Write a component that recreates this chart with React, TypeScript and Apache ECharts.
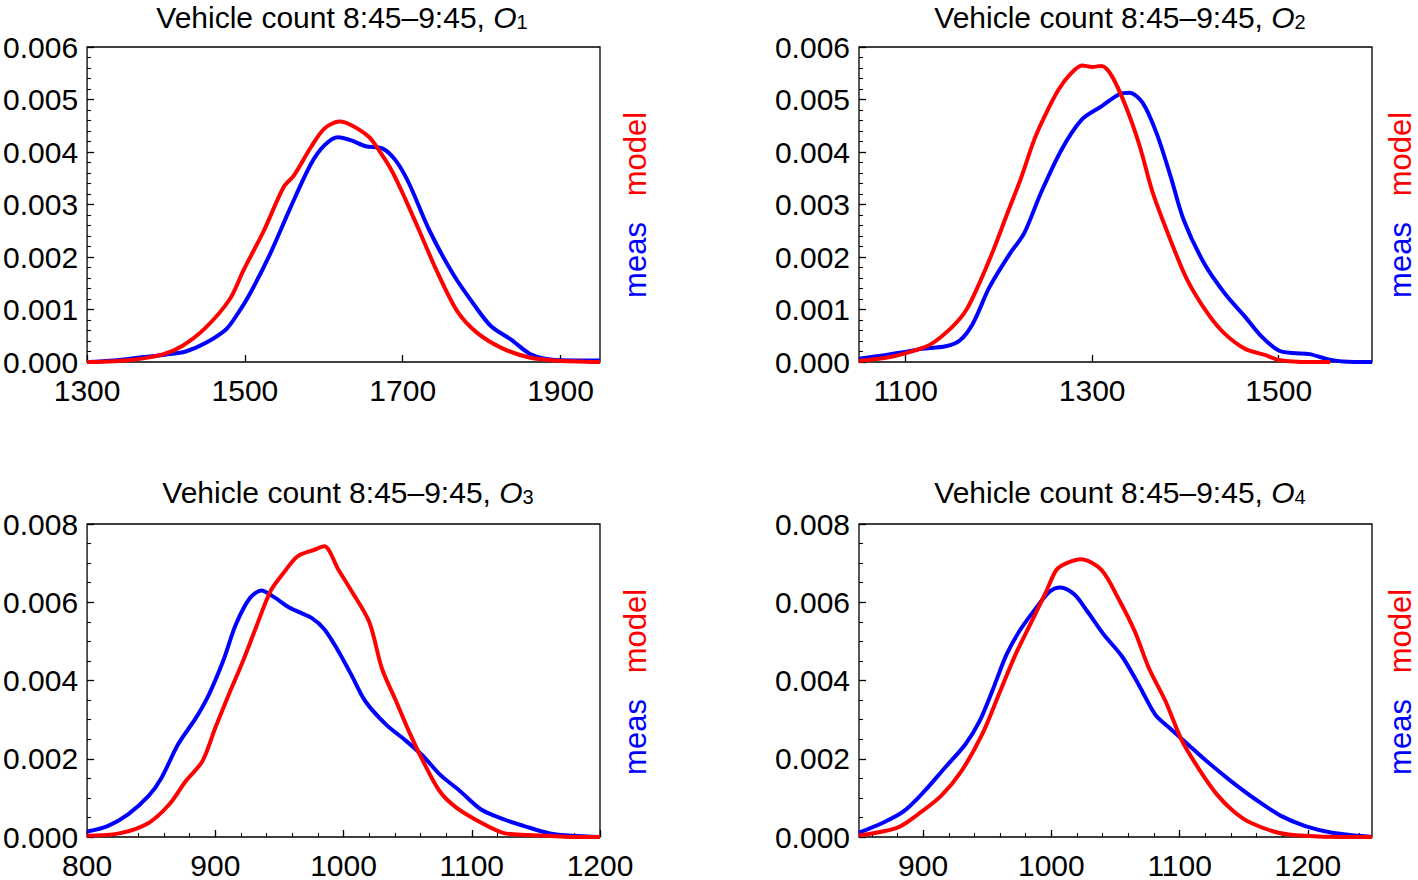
import React, { useEffect, useRef } from "react";
import * as echarts from "echarts";

// ---------- data ----------
const titleText = "Vehicle count 8:45–9:45, ";
const panelSubs = ["1", "2", "3", "4"];

const o1MeasX = [1300, 1334, 1369, 1399, 1425, 1450, 1476, 1490, 1506, 1532, 1558, 1584, 1601, 1618, 1635, 1653, 1674, 1691, 1708, 1734, 1764, 1790, 1812, 1837, 1863, 1893, 1950];
const o1MeasY = [0, 0.00003, 0.00009, 0.00014, 0.0002, 0.00036, 0.00062, 0.0009, 0.00129, 0.00206, 0.00295, 0.00378, 0.00413, 0.00428, 0.00422, 0.00411, 0.00407, 0.00384, 0.0034, 0.0025, 0.00167, 0.0011, 0.00068, 0.00043, 0.00014, 0.00004, 0.00003];
const o1ModelX = [1300, 1356, 1395, 1420, 1450, 1481, 1498, 1524, 1549, 1562, 1584, 1601, 1620, 1635, 1657, 1670, 1687, 1704, 1721, 1743, 1769, 1794, 1825, 1859, 1893, 1950];
const o1ModelY = [0, 0.00004, 0.00014, 0.0003, 0.00065, 0.0012, 0.00174, 0.0025, 0.00333, 0.00355, 0.0041, 0.00445, 0.00458, 0.00451, 0.00429, 0.00403, 0.00362, 0.00308, 0.0025, 0.00174, 0.00097, 0.00056, 0.00027, 0.00009, 0.00003, 0];

const o2MeasX = [1050, 1077, 1099, 1117, 1143, 1158, 1172, 1190, 1212, 1227, 1245, 1267, 1289, 1310, 1329, 1340, 1354, 1369, 1384, 1398, 1420, 1442, 1464, 1482, 1500, 1515, 1533, 1551, 1569, 1600];
const o2MeasY = [0.00006, 0.00013, 0.00019, 0.00025, 0.0003, 0.00041, 0.00073, 0.00143, 0.00207, 0.00245, 0.00322, 0.00404, 0.00462, 0.00487, 0.0051, 0.00513, 0.00494, 0.00436, 0.00354, 0.00271, 0.00188, 0.00131, 0.00086, 0.00048, 0.00022, 0.00017, 0.00015, 0.00006, 0.00001, 0];
const o2ModelX = [1050, 1085, 1110, 1128, 1150, 1165, 1179, 1194, 1209, 1223, 1238, 1249, 1264, 1278, 1289, 1300, 1310, 1321, 1336, 1351, 1365, 1384, 1402, 1424, 1442, 1464, 1486, 1500, 1533, 1555];
const o2ModelY = [0.00002, 0.0001, 0.00022, 0.00035, 0.00067, 0.00099, 0.0015, 0.00213, 0.00283, 0.00347, 0.00424, 0.00468, 0.00519, 0.00551, 0.00565, 0.00562, 0.00564, 0.00545, 0.00487, 0.00411, 0.00322, 0.00232, 0.00156, 0.00092, 0.00054, 0.00025, 0.00013, 0.00004, 0, 0];

const o3MeasX = [800, 816, 832, 848, 858, 871, 885, 895, 906, 916, 927, 936, 945, 958, 975, 985, 996, 1006, 1017, 1033, 1049, 1062, 1075, 1091, 1107, 1125, 1141, 1160, 1178, 1200];
const o3MeasY = [0.00014, 0.00028, 0.00058, 0.00105, 0.00151, 0.00237, 0.00305, 0.00364, 0.00449, 0.00543, 0.00611, 0.0063, 0.00615, 0.00586, 0.0056, 0.00531, 0.00475, 0.00415, 0.00347, 0.00288, 0.00245, 0.00207, 0.0016, 0.00117, 0.00071, 0.00045, 0.00028, 0.0001, 0.00003, 0];
const o3ModelX = [800, 826, 848, 864, 877, 890, 900, 911, 922, 932, 943, 953, 964, 977, 985, 996, 1006, 1020, 1030, 1041, 1051, 1062, 1075, 1088, 1107, 1125, 1144, 1165, 1178, 1200];
const o3ModelY = [0.00003, 0.0001, 0.00036, 0.00083, 0.00143, 0.00194, 0.00279, 0.00368, 0.00453, 0.00538, 0.00628, 0.00674, 0.00717, 0.00734, 0.00743, 0.00683, 0.0063, 0.0055, 0.0043, 0.00347, 0.0027, 0.00194, 0.00117, 0.00075, 0.00037, 0.0001, 0.00005, 0.00002, 0, 0];

const o4MeasX = [850, 869, 885, 901, 917, 933, 944, 954, 965, 975, 988, 999, 1007, 1018, 1028, 1041, 1055, 1068, 1081, 1092, 1105, 1121, 1140, 1161, 1179, 1198, 1219, 1240, 1250];
const o4MeasY = [0.00011, 0.00037, 0.00066, 0.00117, 0.00177, 0.00237, 0.00296, 0.00374, 0.00466, 0.00526, 0.00585, 0.00628, 0.00638, 0.0062, 0.00577, 0.00517, 0.00462, 0.0039, 0.00313, 0.00279, 0.00241, 0.00194, 0.00143, 0.00092, 0.00054, 0.00028, 0.00011, 0.00003, 0];
const o4ModelX = [850, 880, 896, 914, 930, 946, 959, 972, 986, 996, 1004, 1012, 1023, 1039, 1052, 1065, 1076, 1089, 1102, 1116, 1129, 1142, 1155, 1177, 1198, 1227, 1250];
const o4ModelY = [0.00004, 0.00024, 0.00058, 0.00105, 0.00169, 0.00262, 0.00364, 0.00466, 0.0056, 0.00628, 0.00683, 0.007, 0.0071, 0.00683, 0.00611, 0.00526, 0.00432, 0.00347, 0.00245, 0.00169, 0.00109, 0.00066, 0.00037, 0.00011, 0.00003, 0, 0];

// axis ranges and tick labels
const xRanges = [[1300, 1950], [1050, 1600], [800, 1200], [850, 1250]];
const xTickLabels = [[1300, 1500, 1700, 1900], [1100, 1300, 1500], [800, 900, 1000, 1100, 1200], [900, 1000, 1100, 1200]];
const xMinorStep = [0, 0, 20, 20];
const yMax = [0.006, 0.006, 0.008, 0.008];
const yInterval = [0.001, 0.001, 0.002, 0.002];
const yMinorSplit = [5, 5, 4, 4];

const FONT = '"Liberation Sans", Arial, Helvetica, sans-serif';
const BLUE = "#0000ff";
const RED = "#ff0000";

const zip = (xs: number[], ys: number[]) => xs.map((x, i) => [x, ys[i]]);

const measData = [zip(o1MeasX, o1MeasY), zip(o2MeasX, o2MeasY), zip(o3MeasX, o3MeasY), zip(o4MeasX, o4MeasY)];
const modelData = [zip(o1ModelX, o1ModelY), zip(o2ModelX, o2ModelY), zip(o3ModelX, o3ModelY), zip(o4ModelX, o4ModelY)];

// layout (pixels)
const grids = [
  { left: 87, top: 47, width: 513, height: 315 },
  { left: 859, top: 47, width: 513, height: 315 },
  { left: 87, top: 524, width: 513, height: 315 },
  { left: 859, top: 524, width: 513, height: 315 },
];
const titlePos = [[342, 17], [1120, 17], [348, 492], [1120, 492]];
const legendX = [635, 1400, 635, 1400];
const legendModelY = [154, 154, 631, 631];
const legendMeasY = [260, 260, 737, 737];

function buildOption() {
  const grid = grids.map((g) => ({
    ...g,
    show: true,
    borderColor: "#000",
    borderWidth: 1.3,
    backgroundColor: "transparent",
  }));

  const xAxis: any[] = grids.map((_, i) => ({
    type: "value",
    gridIndex: i,
    position: "bottom",
    min: xRanges[i][0],
    max: xRanges[i][1],
    axisLine: { show: false },
    axisTick: {
      show: true,
      inside: true,
      length: 7,
      customValues: xTickLabels[i],
      lineStyle: { color: "#000", width: 1.3 },
    },
    axisLabel: {
      show: true,
      customValues: xTickLabels[i],
      color: "#000",
      fontFamily: FONT,
      fontSize: 30,
      margin: 13,
      formatter: (v: number) => String(v),
    },
    splitLine: { show: false },
  }));

  // helper axes carrying the minor ticks on the x axis
  grids.forEach((_, i) => {
    if (!xMinorStep[i]) return;
    const vals: number[] = [];
    const step = xMinorStep[i];
    for (let v = Math.ceil(xRanges[i][0] / step) * step; v <= xRanges[i][1]; v += step) vals.push(v);
    xAxis.push({
      type: "value",
      gridIndex: i,
      position: "bottom",
      offset: 0,
      min: xRanges[i][0],
      max: xRanges[i][1],
      axisLine: { show: false },
      axisTick: {
        show: true,
        inside: true,
        length: 4,
        customValues: vals,
        lineStyle: { color: "#000", width: 1.1 },
      },
      axisLabel: { show: false },
      splitLine: { show: false },
    });
  });

  const yAxis = grids.map((_, i) => ({
    type: "value",
    gridIndex: i,
    min: 0,
    max: yMax[i],
    interval: yInterval[i],
    axisLine: { show: false },
    axisTick: { show: true, inside: true, length: 7, lineStyle: { color: "#000", width: 1.3 } },
    minorTick: { show: true, splitNumber: yMinorSplit[i], length: 4, lineStyle: { color: "#000", width: 1.1 } },
    axisLabel: {
      color: "#000",
      fontFamily: FONT,
      fontSize: 30,
      margin: 9,
      formatter: (v: number) => v.toFixed(3),
    },
    splitLine: { show: false },
    minorSplitLine: { show: false },
  }));

  const series: any[] = [];
  grids.forEach((_, i) => {
    series.push({
      type: "line",
      name: "meas",
      xAxisIndex: i,
      yAxisIndex: i,
      data: measData[i],
      showSymbol: false,
      symbol: "none",
      smooth: 0.3,
      lineStyle: { color: BLUE, width: 4 },
      z: 2,
    });
    series.push({
      type: "line",
      name: "model",
      xAxisIndex: i,
      yAxisIndex: i,
      data: modelData[i],
      showSymbol: false,
      symbol: "none",
      smooth: 0.3,
      lineStyle: { color: RED, width: 4 },
      z: 3,
    });
  });

  const graphic: any[] = [];
  grids.forEach((_, i) => {
    graphic.push({
      type: "text",
      x: titlePos[i][0],
      y: titlePos[i][1],
      style: {
        text: `{a|${titleText}}{i|O}{s|${panelSubs[i]}}`,
        align: "center",
        verticalAlign: "middle",
        rich: {
          a: { fontFamily: FONT, fontSize: 30, lineHeight: 30, fill: "#000" },
          i: { fontFamily: FONT, fontSize: 30, lineHeight: 30, fontStyle: "italic", fill: "#000" },
          s: { fontFamily: FONT, fontSize: 20, lineHeight: 16, verticalAlign: "bottom", fill: "#000" },
        },
      },
    });
    graphic.push({
      type: "text",
      x: legendX[i],
      y: legendModelY[i],
      rotation: Math.PI / 2,
      style: {
        text: "model",
        fill: RED,
        font: `31px ${FONT}`,
        align: "center",
        verticalAlign: "middle",
      },
    });
    graphic.push({
      type: "text",
      x: legendX[i],
      y: legendMeasY[i],
      rotation: Math.PI / 2,
      style: {
        text: "meas",
        fill: BLUE,
        font: `31px ${FONT}`,
        align: "center",
        verticalAlign: "middle",
      },
    });
  });

  return {
    animation: false,
    backgroundColor: "#ffffff",
    grid,
    xAxis,
    yAxis,
    series,
    graphic,
  };
}

export default function App() {
  const ref = useRef<HTMLDivElement>(null);

  useEffect(() => {
    document.body.style.margin = "0";
    if (!ref.current) return;
    const chart = echarts.init(ref.current, undefined, { renderer: "svg" });
    chart.setOption(buildOption() as any);
    return () => {
      chart.dispose();
    };
  }, []);

  return (
    <div
      ref={ref}
      style={{ position: "absolute", left: 0, top: 0, width: 1418, height: 880 }}
    />
  );
}
